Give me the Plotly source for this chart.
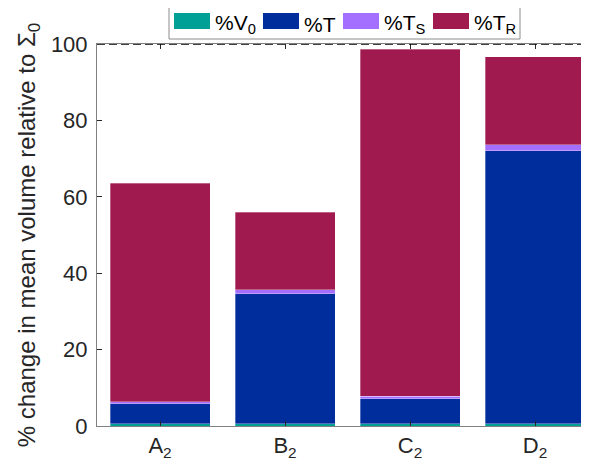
import plotly.graph_objects as go

categories = ["A<sub>2</sub>", "B<sub>2</sub>", "C<sub>2</sub>", "D<sub>2</sub>"]
positions = [1, 2, 3, 4]
V0 = [0.6, 0.6, 0.6, 0.6]
T = [5.2, 34.0, 6.6, 71.4]
TS = [0.6, 1.1, 0.6, 1.6]
TR = [57.2, 20.3, 90.8, 23.1]
series_names = ["%V<sub>0</sub>", "%T", "%T<sub>S</sub>", "%T<sub>R</sub>"]
colors = ["#00A097", "#002D9C", "#A46EFF", "#A0194F"]

OFF = 8  # page body margin
W, H = 589 - OFF, 472 - 2 * OFF
# target screen positions of plot area
SL, ST, SB = 97, 44, 426
L = SL - OFF
TOP = ST - OFF
BOT = H - (SB - OFF)
R = 0
pw = W - L - R
ph = H - TOP - BOT

fig = go.Figure()
for name, vals, c in zip(series_names, [V0, T, TS, TR], colors):
    fig.add_trace(go.Bar(x=positions, y=vals, name=name, width=0.8,
                         marker=dict(color=c, line=dict(color="rgba(255,255,255,0.45)", width=0.7)),
                         showlegend=False))

font = "Liberation Sans, Arial, Helvetica, sans-serif"
fig.update_layout(
    barmode="stack",
    width=W, height=H,
    margin=dict(l=L, r=R, t=TOP, b=BOT, pad=0),
    plot_bgcolor="white", paper_bgcolor="white",
    font=dict(family=font, size=22, color="#262626"),
    xaxis=dict(range=[0.496, 0.496 + pw / 125.0], tickvals=positions, ticktext=categories,
               ticks="inside", ticklen=5, tickcolor="#262626", showline=True, linecolor="#808080",
               linewidth=1, mirror="ticks", showgrid=False, zeroline=False,
               tickfont=dict(size=22)),
    yaxis=dict(range=[0, 100], tickvals=[0, 20, 40, 60, 80, 100], ticks="inside", ticklen=5,
               tickcolor="#262626", showline=True, linecolor="#808080", linewidth=1,
               showgrid=False, zeroline=False, tickfont=dict(size=22), ticklabelstandoff=4,
               title=dict(text="% change in mean volume relative to Σ<sub>0</sub>",
                          font=dict(size=24), standoff=8)),
)

# dashed line at 100
fig.add_shape(type="line", xref="paper", yref="y", x0=0, x1=1, y0=100, y1=100,
              line=dict(color="#000000", width=1.5, dash="8px,4px"))

# custom legend (screen pixel positions)
def px_x(p):
    return (p - SL) / pw

def px_y(p):
    return (SB - p) / ph

fig.add_shape(type="rect", xref="paper", yref="paper", x0=px_x(169), x1=px_x(520),
              y0=px_y(39), y1=px_y(3), line=dict(color="#8c8c8c", width=1),
              fillcolor="white", layer="above")
sw_x = [174, 263, 343, 433]
for name, c, sx in zip(series_names, colors, sw_x):
    fig.add_shape(type="rect", xref="paper", yref="paper", x0=px_x(sx), x1=px_x(sx + 36),
                  y0=px_y(29), y1=px_y(13), line=dict(color=c, width=0), fillcolor=c,
                  layer="above")
    fig.add_annotation(xref="paper", yref="paper", x=px_x(sx + 39), y=px_y(24),
                       text=name, showarrow=False, xanchor="left", yanchor="middle",
                       font=dict(size=21, color="#000000"))

fig.write_html("out.html")
